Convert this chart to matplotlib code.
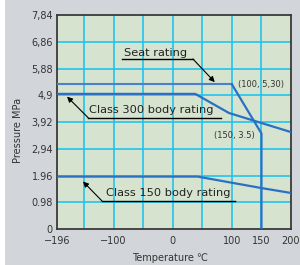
import matplotlib
matplotlib.use('Agg')
import matplotlib.pyplot as plt
from matplotlib.patches import Rectangle

# data
seat_temp = [-196, 100, 150, 150]
seat_press = [5.30, 5.30, 3.5, 0.0]
c300_temp = [-196, 38, 95, 200]
c300_press = [4.95, 4.95, 4.25, 3.55]
c150_temp = [-196, 42, 150, 200]
c150_press = [1.92, 1.92, 1.50, 1.32]

xtick_vals = [-196, -100, 0, 100, 150, 200]
xtick_labels = ['\u2212196', '\u2212100', '0', '100', '150', '200']
xgrid_vals = [-150, -100, -50, 0, 50, 100, 150]
ytick_vals = [0, 0.98, 1.96, 2.94, 3.92, 4.9, 5.88, 6.86, 7.84]
ytick_labels = ['0', '0.98', '1.96', '2,94', '3,92', '4,9', '5,88', '6,86', '7,84']

GRID = '#22c3ee'
LINE = '#2a70c4'
SEAT = '#4a80cc'
BG = '#d6e3cf'

fig = plt.figure(figsize=(3.0, 2.65), dpi=100, facecolor='#d2d5d9')
fig.patches.append(Rectangle((0, 0), 5 / 300, 1, transform=fig.transFigure,
                             facecolor='white', edgecolor='none', zorder=-1))
ax = fig.add_axes([57 / 300, 36 / 265, 234 / 300, 214 / 265])
ax.set_facecolor(BG)
ax.set_xlim(-196, 200)
ax.set_ylim(0, 7.84)

for x in xgrid_vals:
    ax.axvline(x, color=GRID, lw=1.2, zorder=1)
for y in ytick_vals[1:-1]:
    ax.axhline(y, color=GRID, lw=1.2, zorder=1)

ax.plot(seat_temp[:2], seat_press[:2], color=SEAT, lw=1.5, zorder=3)
ax.plot(seat_temp[1:], seat_press[1:], color=LINE, lw=1.6, zorder=3)
ax.plot(c300_temp, c300_press, color=LINE, lw=1.6, zorder=3)
ax.plot(c150_temp, c150_press, color=LINE, lw=1.6, zorder=3)

ax.set_xticks(xtick_vals)
ax.set_xticklabels(xtick_labels)
ax.set_yticks(ytick_vals)
ax.set_yticklabels(ytick_labels)
ax.tick_params(length=0, labelsize=7, colors='#333333')
ax.tick_params(axis='x', pad=5)
ax.tick_params(axis='y', pad=3)
for s in ax.spines.values():
    s.set_color('#3a3a3a')
    s.set_linewidth(1.3)

ax.set_xlabel('Temperature \u2103', fontsize=7, color='#333333')
ax.xaxis.set_label_coords(0.483, -0.11)
ax.set_ylabel('Pressure MPa', fontsize=7, color='#333333')
ax.yaxis.set_label_coords(-0.145, 0.46)

# callouts: text, underline, pointer
fs = 8.2
arrow = dict(arrowstyle='-|>', color='k', lw=0.8, mutation_scale=8, shrinkA=0, shrinkB=0)

ax.text(-30, 6.45, 'Seat rating', fontsize=fs, ha='center', va='center', color='#222222')
ax.plot([-86, 34], [6.23, 6.23], color='k', lw=1, zorder=4)
ax.annotate('', xy=(71, 5.38), xytext=(34, 6.23), arrowprops=arrow)

ax.text(-37, 4.36, 'Class 300 body rating', fontsize=fs, ha='center', va='center', color='#222222')
ax.plot([-143, 81], [4.07, 4.07], color='k', lw=1, zorder=4)
ax.annotate('', xy=(-179, 4.85), xytext=(-143, 4.07), arrowprops=arrow)

ax.text(-8, 1.33, 'Class 150 body rating', fontsize=fs, ha='center', va='center', color='#222222')
ax.plot([-120, 105], [1.03, 1.03], color='k', lw=1, zorder=4)
ax.annotate('', xy=(-152, 1.74), xytext=(-120, 1.03), arrowprops=arrow)

ax.text(149, 5.31, '(100, 5,30)', fontsize=6, ha='center', va='center', color='#333333')
ax.text(105, 3.44, '(150, 3.5)', fontsize=6, ha='center', va='center', color='#333333')

fig.savefig('out.png', dpi=100, facecolor=fig.get_facecolor())
